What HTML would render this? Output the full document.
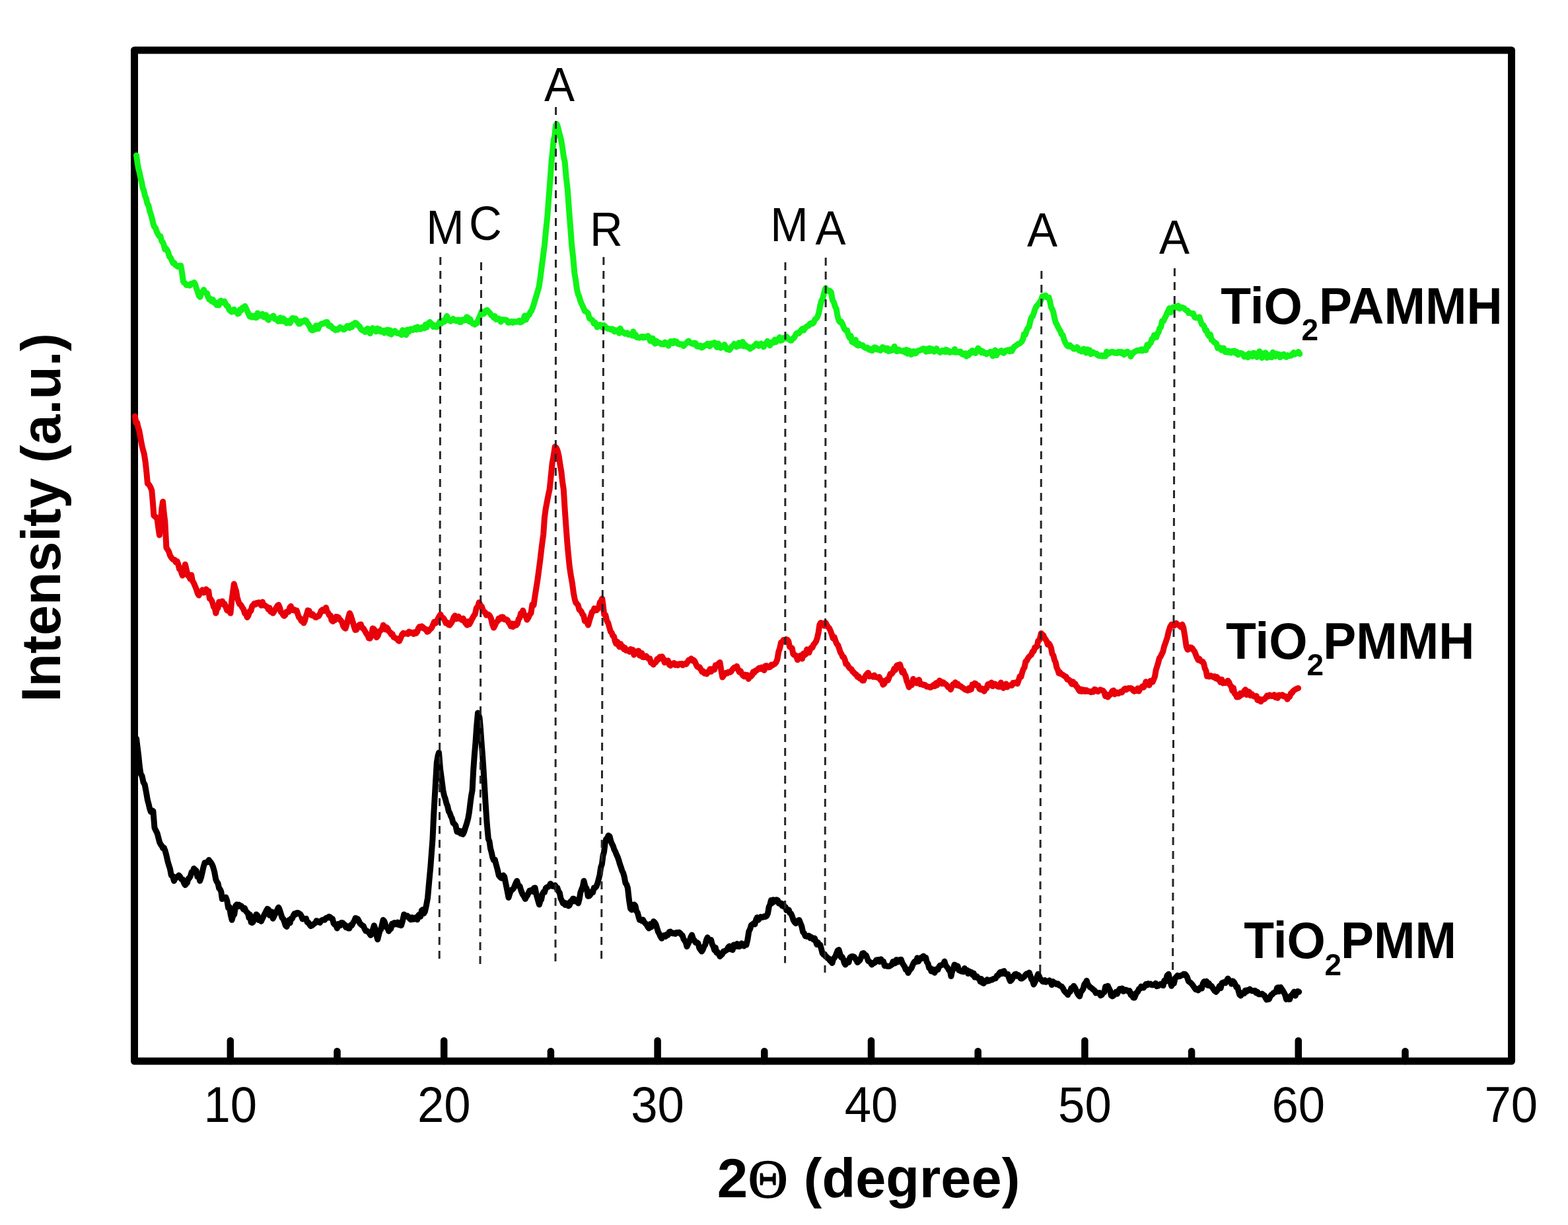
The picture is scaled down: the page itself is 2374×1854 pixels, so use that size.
<!DOCTYPE html>
<html><head><meta charset="utf-8"><style>
html,body{margin:0;padding:0;background:#fff;overflow:hidden;}
svg{display:block;}
</style></head><body>
<svg width="2374" height="1854" viewBox="0 0 2374 1854">
<rect width="2374" height="1854" fill="#fff"/>
<rect x="203.5" y="76" width="2085.0" height="1530" fill="none" stroke="#000" stroke-width="11" stroke-linejoin="round"/>
<line x1="348.8" y1="1575" x2="348.8" y2="1606" stroke="#000" stroke-width="10.5" stroke-linecap="round"/>
<line x1="672.2" y1="1575" x2="672.2" y2="1606" stroke="#000" stroke-width="10.5" stroke-linecap="round"/>
<line x1="995.6" y1="1575" x2="995.6" y2="1606" stroke="#000" stroke-width="10.5" stroke-linecap="round"/>
<line x1="1319.0" y1="1575" x2="1319.0" y2="1606" stroke="#000" stroke-width="10.5" stroke-linecap="round"/>
<line x1="1642.4" y1="1575" x2="1642.4" y2="1606" stroke="#000" stroke-width="10.5" stroke-linecap="round"/>
<line x1="1965.8" y1="1575" x2="1965.8" y2="1606" stroke="#000" stroke-width="10.5" stroke-linecap="round"/>
<line x1="510.5" y1="1591" x2="510.5" y2="1606" stroke="#000" stroke-width="10.5" stroke-linecap="round"/>
<line x1="833.9" y1="1591" x2="833.9" y2="1606" stroke="#000" stroke-width="10.5" stroke-linecap="round"/>
<line x1="1157.3" y1="1591" x2="1157.3" y2="1606" stroke="#000" stroke-width="10.5" stroke-linecap="round"/>
<line x1="1480.7" y1="1591" x2="1480.7" y2="1606" stroke="#000" stroke-width="10.5" stroke-linecap="round"/>
<line x1="1804.1" y1="1591" x2="1804.1" y2="1606" stroke="#000" stroke-width="10.5" stroke-linecap="round"/>
<line x1="2127.5" y1="1591" x2="2127.5" y2="1606" stroke="#000" stroke-width="10.5" stroke-linecap="round"/>
<polyline points="206.5,235.2 208.1,246.4 209.6,255.3 211.2,261.0 212.8,269.0 214.4,275.1 216.0,284.5 217.8,288.2 219.5,296.3 221.2,300.1 223.0,308.0 224.9,311.0 226.9,320.1 228.8,325.5 230.4,331.6 231.9,338.3 233.5,343.0 235.5,345.1 237.4,350.9 239.4,354.8 241.2,357.6 242.9,357.6 244.7,364.7 246.4,366.5 248.0,370.2 249.7,377.4 251.3,376.1 253.0,378.5 254.6,381.8 256.4,388.2 258.2,390.1 260.0,393.7 261.8,398.0 263.7,397.8 265.5,401.0 267.1,401.6 268.8,403.4 270.4,403.0 272.1,402.1 273.7,402.0 275.5,411.7 277.4,425.8 279.0,428.1 280.6,428.7 282.2,431.4 283.8,431.3 285.5,431.1 287.2,432.2 288.9,429.3 290.5,429.2 292.2,429.6 293.9,427.6 295.7,430.5 297.5,436.9 299.4,441.7 301.2,447.8 303.0,449.5 304.9,443.0 306.7,442.2 308.5,438.6 310.1,442.6 311.8,443.5 313.4,443.7 315.0,449.6 316.8,453.2 318.6,452.1 320.5,456.0 322.3,453.5 324.1,457.8 325.9,457.6 327.8,461.6 329.6,459.7 331.3,461.9 333.0,455.9 334.6,455.2 336.3,457.1 338.0,458.1 339.7,456.0 341.5,459.5 343.4,463.0 345.2,463.6 347.0,468.8 348.8,470.5 350.7,472.2 352.5,469.6 354.4,468.2 356.2,471.6 358.0,471.0 359.8,474.9 361.6,474.3 363.4,468.6 365.3,469.7 367.1,465.7 369.0,465.2 370.8,463.3 372.6,466.8 374.5,471.3 376.3,475.2 378.0,479.0 379.7,477.6 381.4,480.2 383.1,478.1 384.8,478.2 386.5,480.7 388.2,480.7 390.0,473.9 391.9,478.4 393.7,477.6 395.5,476.2 397.3,475.1 399.2,479.9 401.0,479.2 402.8,476.7 404.7,482.6 406.5,484.4 408.3,480.8 410.1,480.2 412.0,479.3 413.8,478.0 415.6,482.6 417.5,482.3 419.4,484.1 421.2,486.2 422.8,486.1 424.4,480.8 426.0,486.0 427.6,482.6 429.2,482.0 430.8,486.7 432.4,485.1 434.0,489.0 435.7,485.8 437.4,485.7 439.1,489.1 440.7,485.5 442.4,481.6 444.1,481.6 445.8,482.4 447.4,482.1 449.1,485.7 450.8,486.0 452.4,490.0 454.1,489.9 456.0,486.2 457.9,487.3 459.7,485.3 461.6,484.5 463.5,485.0 465.2,488.9 466.8,490.3 468.5,493.7 470.2,497.4 471.8,499.8 473.5,500.0 475.2,496.0 476.8,498.6 478.5,492.7 480.2,494.9 481.8,497.6 483.5,492.5 485.2,491.3 486.8,490.1 488.5,490.3 490.2,489.2 491.8,488.4 493.5,487.5 495.3,487.4 497.1,492.5 498.9,493.6 500.6,492.8 502.4,495.3 504.2,497.4 506.0,497.5 507.8,499.6 509.6,498.3 511.4,498.9 513.1,497.0 514.9,495.4 516.7,496.5 518.5,497.5 520.3,498.8 522.1,498.0 523.9,495.6 525.6,493.5 527.4,494.5 529.2,496.5 531.0,492.5 532.7,495.0 534.3,490.6 536.0,491.7 537.7,488.6 539.3,489.0 541.0,491.0 542.7,492.9 544.3,494.0 546.0,497.4 547.7,499.5 549.3,500.2 551.0,500.0 552.9,502.5 554.8,498.6 556.6,497.3 558.5,500.4 560.4,504.6 562.2,499.8 564.1,496.6 566.0,498.8 567.8,499.4 569.5,501.9 571.2,497.1 573.0,500.9 574.8,498.2 576.5,502.0 578.2,501.2 580.0,500.4 581.8,503.9 583.5,500.0 585.3,499.5 587.1,499.3 588.9,504.8 590.6,499.7 592.4,506.2 594.2,502.1 596.0,502.5 597.7,500.8 599.3,503.3 601.0,504.0 602.7,504.6 604.3,504.2 606.0,505.0 607.8,506.8 609.6,499.6 611.4,502.8 613.1,503.0 614.9,506.9 616.7,498.9 618.5,502.5 620.2,500.7 621.8,498.0 623.5,497.9 625.2,499.4 626.8,497.9 628.5,496.0 630.3,498.9 632.1,494.8 633.9,496.5 635.6,498.3 637.4,497.8 639.2,495.3 641.0,496.0 642.7,496.8 644.3,491.3 646.0,495.4 647.7,490.6 649.3,488.7 651.0,487.5 652.7,489.3 654.3,491.7 656.0,494.7 657.7,492.2 659.3,493.0 661.0,495.0 662.7,494.5 664.3,489.9 666.0,486.6 667.7,490.0 669.3,485.9 671.0,485.0 672.9,486.9 674.8,482.3 676.6,478.3 678.5,484.3 680.4,483.7 682.2,486.3 684.1,483.9 686.0,482.5 687.7,484.0 689.3,485.3 691.0,484.3 692.7,486.0 694.3,484.0 696.0,487.5 697.8,487.6 699.5,483.9 701.3,483.7 703.1,485.0 704.9,484.5 706.6,479.7 708.4,480.7 710.2,486.5 711.9,483.0 713.7,487.6 715.5,489.6 717.2,489.9 719.0,491.2 720.7,488.6 722.4,488.9 724.0,484.2 725.7,480.3 727.4,476.5 729.1,471.6 730.8,472.4 732.5,475.0 734.2,471.8 735.9,470.1 737.5,469.3 739.0,471.0 740.6,472.7 742.2,474.4 744.0,477.2 745.7,478.0 747.5,480.6 749.2,478.4 751.0,483.4 752.7,482.8 754.6,482.1 756.4,482.7 758.2,487.1 760.1,484.0 762.0,483.8 763.8,484.0 765.6,483.9 767.5,484.9 769.3,488.3 771.1,488.3 772.9,487.2 774.8,486.5 776.6,488.5 778.4,486.5 780.2,487.0 782.0,487.3 783.8,486.6 785.6,485.4 787.4,487.9 789.2,487.5 791.0,486.0 792.8,482.8 794.5,477.7 796.2,484.0 797.9,480.4 799.6,476.9 801.3,476.5 803.0,472.2 804.7,470.3 806.3,466.2 808.0,461.3 809.7,455.4 811.8,448.6 813.9,441.4 816.0,434.3 818.1,420.1 820.3,402.6 822.4,386.6 824.5,371.0 826.6,348.1 828.7,328.8 830.3,306.5 831.9,286.6 833.5,265.2 835.0,244.4 836.6,229.2 838.2,212.7 839.8,205.6 841.4,189.5 843.0,187.8 844.5,191.6 846.3,199.6 848.0,205.5 849.8,212.7 851.6,223.9 853.3,236.5 855.1,244.4 857.2,268.0 859.3,286.6 860.8,307.4 862.4,328.8 864.0,348.8 865.6,371.0 867.7,389.4 869.8,413.2 871.6,423.6 873.3,436.8 875.1,444.8 876.8,448.5 878.5,454.6 880.1,458.9 881.8,462.5 883.5,465.9 885.3,470.9 887.0,471.3 888.8,472.7 890.6,474.8 892.3,481.8 894.1,482.8 895.8,483.8 897.5,485.5 899.1,489.5 900.8,487.9 902.5,491.2 904.2,495.2 905.9,493.4 907.6,491.4 909.3,491.6 911.0,493.3 912.8,496.2 914.5,492.3 916.2,494.1 918.0,496.1 919.8,497.2 921.5,497.5 923.3,497.9 925.0,499.0 926.8,497.9 928.6,498.7 930.3,501.9 932.1,499.7 933.9,501.3 935.6,499.5 937.4,504.2 939.1,497.1 940.9,501.6 942.6,501.8 944.4,503.8 946.1,505.1 947.9,504.1 949.7,503.8 951.4,506.5 953.2,506.0 955.1,506.1 956.9,507.9 958.8,501.7 960.7,508.6 962.5,506.8 964.4,510.7 966.3,510.8 968.1,511.2 970.0,510.2 971.8,509.4 973.6,511.1 975.4,509.5 977.3,510.6 979.1,509.9 980.9,508.5 982.7,510.2 984.5,516.1 986.4,515.5 988.2,511.9 990.0,518.0 991.9,520.2 993.8,516.0 995.6,518.8 997.5,518.5 999.4,519.0 1001.2,520.9 1003.1,520.2 1005.0,521.2 1006.8,518.0 1008.5,520.5 1010.2,520.9 1012.0,523.3 1013.8,518.5 1015.5,516.6 1017.2,517.9 1019.0,519.6 1020.8,516.1 1022.5,517.5 1024.3,517.0 1026.1,520.4 1027.9,520.2 1029.6,521.5 1031.4,520.7 1033.2,521.2 1035.0,523.8 1036.9,521.2 1038.8,519.7 1040.6,517.5 1042.5,516.2 1044.3,518.0 1046.1,519.2 1048.0,520.1 1049.8,520.8 1051.6,519.0 1053.4,519.5 1055.2,524.2 1057.0,523.5 1058.9,524.7 1060.7,523.0 1062.5,526.2 1064.2,525.2 1066.0,523.7 1067.8,522.6 1069.5,522.5 1071.2,520.1 1073.0,522.7 1074.8,524.2 1076.5,519.8 1078.2,520.8 1080.0,520.0 1081.9,518.4 1083.8,522.6 1085.6,525.6 1087.5,520.0 1089.4,522.7 1091.2,526.6 1093.1,525.1 1095.0,525.2 1096.9,521.5 1098.8,525.9 1100.6,528.7 1102.5,527.5 1104.3,529.7 1106.1,527.4 1108.0,524.3 1109.8,523.4 1111.6,520.5 1113.4,521.3 1115.2,525.0 1117.0,521.8 1118.9,518.7 1120.7,523.3 1122.5,520.0 1124.4,517.4 1126.2,524.1 1128.1,521.7 1130.0,523.8 1131.9,525.3 1133.8,525.2 1135.6,528.0 1137.5,526.2 1139.4,525.5 1141.2,524.0 1143.1,522.6 1145.0,520.2 1146.9,521.0 1148.8,523.5 1150.6,522.4 1152.5,520.0 1154.4,522.6 1156.2,525.0 1158.1,520.8 1160.0,520.2 1161.9,516.3 1163.8,518.3 1165.6,522.9 1167.5,519.4 1169.4,517.8 1171.2,518.5 1173.1,513.9 1175.0,517.5 1176.8,514.9 1178.6,513.1 1180.4,510.5 1182.1,515.5 1183.9,515.0 1185.7,511.8 1187.5,511.2 1189.3,512.1 1191.1,509.6 1192.9,512.7 1194.6,513.5 1196.4,515.2 1198.2,515.4 1200.0,512.5 1201.9,511.6 1203.8,508.5 1205.6,505.2 1207.5,503.8 1209.4,504.4 1211.2,502.4 1213.1,499.4 1215.0,497.5 1216.9,499.9 1218.8,496.9 1220.6,494.7 1222.5,493.4 1224.4,493.0 1226.2,490.0 1228.1,489.0 1230.0,490.0 1231.9,488.2 1233.8,483.8 1235.6,482.0 1237.5,480.0 1239.6,474.1 1241.7,462.9 1243.8,455.0 1245.8,451.4 1247.9,442.5 1250.0,436.2 1252.1,440.5 1254.2,439.7 1256.2,440.0 1258.3,442.3 1260.4,454.1 1262.5,457.5 1264.4,464.0 1266.2,467.3 1268.1,478.4 1270.0,485.0 1271.8,487.5 1273.6,486.7 1275.4,490.2 1277.1,494.7 1278.9,498.5 1280.7,500.1 1282.5,500.0 1284.4,506.8 1286.2,511.0 1288.1,508.2 1290.0,517.5 1291.8,516.8 1293.6,519.3 1295.4,514.3 1297.1,521.9 1298.9,522.9 1300.7,520.2 1302.5,522.5 1304.3,522.6 1306.1,522.4 1307.9,525.1 1309.6,526.0 1311.4,526.9 1313.2,525.8 1315.0,528.8 1316.8,529.5 1318.6,528.1 1320.4,530.7 1322.1,529.4 1323.9,525.8 1325.7,525.9 1327.5,528.9 1329.3,527.8 1331.1,529.7 1332.9,530.4 1334.6,528.8 1336.4,525.4 1338.2,526.4 1340.0,528.8 1341.8,530.1 1343.6,527.0 1345.4,531.5 1347.1,529.3 1348.9,530.7 1350.7,528.1 1352.5,529.8 1354.3,524.3 1356.1,529.9 1357.9,531.7 1359.6,528.9 1361.4,529.2 1363.2,531.0 1365.0,531.2 1366.8,531.7 1368.6,530.3 1370.5,533.6 1372.3,529.3 1374.1,535.2 1375.9,530.5 1377.7,532.0 1379.5,536.6 1381.4,532.3 1383.2,531.4 1385.0,535.0 1386.9,534.4 1388.8,531.6 1390.6,530.4 1392.5,530.5 1394.4,529.6 1396.2,528.4 1398.1,527.5 1400.0,528.8 1401.8,532.2 1403.6,527.9 1405.4,531.5 1407.1,527.0 1408.9,531.2 1410.7,527.9 1412.5,529.7 1414.3,532.2 1416.1,530.1 1417.9,527.5 1419.6,530.6 1421.4,531.6 1423.2,533.4 1425.0,532.5 1426.9,530.5 1428.8,531.9 1430.6,532.6 1432.5,529.2 1434.4,532.3 1436.2,530.8 1438.1,533.4 1440.0,532.5 1441.8,532.5 1443.6,532.7 1445.4,528.5 1447.1,533.4 1448.9,533.1 1450.7,532.2 1452.5,533.4 1454.3,532.1 1456.1,535.3 1457.9,536.5 1459.6,536.6 1461.4,534.7 1463.2,539.3 1465.0,536.2 1466.8,537.3 1468.5,533.1 1470.2,534.1 1472.0,530.5 1473.8,532.9 1475.5,533.9 1477.2,534.4 1479.0,530.4 1480.8,527.0 1482.5,530.0 1484.4,530.1 1486.2,533.7 1488.1,531.7 1490.0,534.4 1491.9,534.0 1493.8,535.9 1495.6,534.5 1497.5,533.8 1499.4,532.4 1501.2,534.6 1503.1,538.8 1505.0,532.6 1506.8,529.9 1508.7,537.8 1510.5,534.4 1512.4,532.3 1514.3,532.3 1516.1,530.4 1518.0,533.5 1519.7,534.3 1521.5,532.5 1523.2,530.4 1525.0,530.2 1526.7,529.5 1528.5,531.9 1530.2,528.8 1532.0,531.3 1533.7,527.9 1535.6,524.7 1537.4,523.7 1539.3,522.4 1541.2,520.8 1543.0,520.2 1544.9,518.9 1546.8,517.2 1548.6,513.9 1550.5,505.6 1552.4,506.5 1554.2,500.4 1556.1,496.5 1558.0,494.8 1559.8,486.4 1561.7,480.2 1563.6,478.6 1565.4,473.4 1567.3,467.3 1569.1,463.7 1570.9,461.9 1572.7,459.5 1574.5,457.1 1576.3,453.8 1578.0,448.7 1579.7,448.0 1581.3,448.9 1583.0,447.1 1584.7,449.9 1586.3,450.6 1588.0,450.3 1589.7,456.1 1591.4,465.0 1593.1,467.8 1594.8,472.5 1596.5,480.8 1598.3,488.0 1600.1,491.1 1601.9,495.0 1603.7,498.6 1605.5,501.0 1607.3,506.2 1609.1,507.1 1610.8,513.2 1612.6,517.9 1614.4,521.2 1616.3,523.6 1618.1,524.4 1620.0,522.5 1621.9,524.5 1623.7,526.1 1625.6,527.9 1627.3,527.9 1629.0,527.0 1630.7,525.5 1632.3,527.2 1634.0,530.6 1635.7,530.4 1637.4,532.0 1639.1,531.3 1640.9,527.9 1642.7,531.1 1644.5,534.1 1646.3,528.7 1648.0,530.8 1649.8,529.9 1651.6,536.0 1653.4,534.0 1655.2,533.1 1657.0,534.6 1658.7,535.3 1660.4,535.3 1662.1,537.7 1663.8,538.6 1665.4,538.6 1667.1,537.8 1668.8,539.1 1670.5,538.0 1672.2,538.9 1673.9,538.9 1675.6,532.2 1677.2,535.9 1678.9,534.7 1680.6,534.1 1682.3,532.6 1684.0,532.4 1685.8,532.7 1687.6,534.3 1689.4,534.1 1691.2,534.5 1693.0,532.5 1694.7,532.6 1696.5,534.1 1698.3,532.4 1700.1,535.4 1701.9,536.9 1703.6,534.9 1705.3,532.7 1707.0,532.2 1708.7,534.8 1710.3,534.3 1712.0,539.5 1713.7,536.6 1715.4,534.6 1717.2,532.4 1719.0,532.3 1720.8,530.6 1722.6,530.3 1724.3,530.5 1726.1,530.5 1727.9,528.7 1729.7,530.9 1731.5,529.9 1733.3,527.9 1735.1,530.0 1736.9,521.7 1738.7,523.9 1740.5,520.0 1742.3,518.9 1744.0,512.9 1745.7,512.7 1747.4,507.2 1749.0,507.6 1750.7,510.4 1752.4,504.7 1754.1,502.9 1755.8,496.5 1757.7,495.1 1759.5,485.9 1761.4,486.1 1763.3,481.8 1765.1,478.6 1767.0,474.0 1768.8,470.1 1770.6,466.5 1772.4,472.9 1774.2,469.3 1776.0,465.1 1777.9,465.7 1779.8,464.1 1781.7,465.5 1783.7,462.6 1785.6,467.0 1787.5,465.4 1789.4,465.1 1791.1,465.9 1792.8,466.5 1794.5,468.3 1796.2,469.8 1797.8,469.9 1799.5,473.7 1801.2,473.3 1802.9,474.0 1804.8,474.9 1806.6,474.5 1808.5,479.8 1810.4,481.1 1812.2,481.0 1814.1,480.8 1815.9,479.8 1817.7,485.5 1819.5,490.8 1821.3,491.6 1823.1,494.2 1825.0,500.1 1826.8,500.1 1828.7,505.9 1830.6,508.7 1832.4,506.1 1834.3,514.4 1836.2,515.5 1838.0,517.7 1839.9,518.7 1841.8,520.1 1843.6,526.9 1845.5,525.6 1847.3,526.7 1849.1,529.9 1850.9,527.0 1852.7,526.9 1854.5,532.4 1856.3,531.5 1858.1,533.2 1859.9,531.0 1861.7,533.5 1863.5,534.0 1865.3,531.5 1867.1,532.3 1868.9,530.9 1870.7,534.6 1872.5,532.4 1874.4,536.9 1876.3,535.3 1878.2,534.3 1880.2,534.8 1882.1,536.6 1884.0,539.9 1885.9,539.1 1887.6,537.0 1889.3,540.9 1891.0,535.0 1892.7,536.8 1894.3,538.9 1896.0,539.3 1897.7,534.3 1899.4,534.6 1901.3,536.6 1903.1,540.4 1905.0,538.1 1906.9,531.7 1908.7,537.0 1910.6,541.6 1912.5,534.9 1914.3,539.4 1916.2,533.8 1918.1,541.5 1919.9,537.0 1921.8,539.1 1923.6,540.6 1925.4,540.7 1927.2,533.2 1929.0,535.8 1930.8,539.2 1932.6,535.4 1934.4,538.3 1936.2,536.3 1938.0,540.8 1939.8,538.0 1941.7,537.0 1943.6,536.2 1945.5,539.3 1947.5,540.4 1949.4,537.7 1951.3,538.6 1953.2,538.0 1955.0,538.3 1956.8,535.7 1958.6,533.6 1960.4,536.3 1962.2,534.6 1964.1,534.3 1965.9,532.6 1967.8,535.7" fill="none" stroke="#10f418" stroke-width="9.0" stroke-linejoin="round" stroke-linecap="round"/>
<polyline points="204.4,630.0 206.0,640.1 207.6,639.5 209.2,647.1 210.8,651.7 212.5,661.1 214.3,671.6 216.0,679.1 218.2,686.8 220.3,700.2 221.9,715.2 223.4,731.8 225.0,732.9 226.6,735.0 228.2,738.1 229.8,742.4 231.4,760.4 232.9,780.4 234.7,781.9 236.4,782.8 238.2,786.7 239.8,799.1 241.4,809.9 243.1,791.9 244.9,769.8 246.6,759.3 248.2,776.4 249.8,788.8 251.9,828.9 253.8,831.8 255.6,834.8 257.4,840.5 259.3,843.7 261.1,845.9 262.8,847.3 264.6,847.2 266.4,851.1 268.1,849.4 269.9,854.2 271.5,861.3 273.0,860.1 274.6,866.5 276.2,871.1 278.3,862.7 280.4,854.2 282.5,863.1 284.6,871.1 286.3,872.7 288.0,876.3 289.7,870.2 291.4,879.1 293.1,881.7 295.2,886.7 297.3,891.8 299.4,898.5 301.2,901.0 302.9,895.6 304.7,897.0 306.5,892.8 308.2,897.0 310.0,896.4 312.1,891.8 314.2,894.3 315.8,894.6 317.4,906.2 318.9,906.6 320.5,909.1 322.1,913.6 323.6,918.7 325.2,920.2 326.8,928.1 328.4,921.5 330.0,920.2 331.6,910.9 333.2,911.2 334.9,912.7 336.6,909.9 338.2,915.0 339.9,913.7 341.6,917.5 343.5,923.4 345.3,924.6 347.1,924.1 349.0,928.1 350.8,909.2 352.5,896.7 354.3,883.8 355.9,889.7 357.5,894.2 359.0,903.1 360.6,909.1 362.7,914.3 364.8,915.7 366.9,919.6 368.8,922.2 370.6,928.3 372.4,929.8 374.3,934.4 376.1,931.6 378.0,925.0 379.9,924.7 381.7,917.5 383.4,915.8 385.1,913.4 386.7,914.9 388.4,912.6 390.1,913.3 391.9,911.7 393.7,914.0 395.5,916.4 397.4,911.0 399.2,916.0 401.0,916.3 402.8,917.5 404.6,918.7 406.3,922.4 408.1,919.9 409.8,925.7 411.6,925.6 413.3,928.1 415.0,925.5 416.7,922.3 418.4,919.6 420.1,916.6 421.8,915.4 423.5,919.4 425.2,926.2 426.8,927.4 428.5,930.4 430.2,932.3 431.9,930.7 433.6,926.0 435.3,925.7 437.0,926.1 438.7,919.6 440.4,917.5 442.2,922.5 443.9,923.6 445.7,922.8 447.4,924.6 449.2,923.9 451.0,929.7 452.7,934.5 454.5,935.9 456.3,939.8 458.0,940.2 459.8,942.9 461.4,939.7 463.0,933.6 464.5,929.1 466.1,923.9 467.9,924.3 469.7,928.1 471.5,931.2 473.4,929.5 475.2,931.8 477.0,934.0 478.8,934.4 480.6,932.5 482.5,932.5 484.3,929.3 486.1,924.5 488.0,923.0 489.8,924.7 491.7,922.6 493.5,919.6 495.2,925.5 496.9,927.6 498.6,931.3 500.3,931.5 502.0,938.6 503.8,940.6 505.5,935.3 507.2,938.5 509.0,933.4 510.8,933.7 512.5,934.4 514.3,937.5 516.0,939.1 517.8,941.4 519.6,947.4 521.3,949.8 523.1,951.3 525.2,944.3 527.3,935.1 529.4,928.1 531.1,931.4 532.8,937.2 534.4,942.2 536.1,948.2 537.8,953.4 539.5,953.2 541.2,949.7 542.9,946.7 544.6,945.4 546.3,945.0 548.0,950.2 549.8,950.6 551.5,953.4 553.2,956.1 554.9,959.4 556.6,961.1 558.4,965.9 560.1,966.2 562.1,963.1 564.2,951.1 566.2,952.1 568.2,955.2 570.2,964.7 572.2,962.2 574.2,955.6 576.2,954.4 578.3,952.3 580.3,946.1 582.0,948.1 583.8,952.8 585.5,949.6 587.2,951.6 588.9,955.8 590.7,956.7 592.4,960.2 594.1,959.5 595.9,964.2 597.6,965.1 599.3,966.0 601.0,966.6 602.8,969.4 604.5,970.3 606.5,966.0 608.5,960.8 610.5,958.2 612.3,959.2 614.0,958.9 615.8,958.4 617.5,959.6 619.3,956.0 621.1,957.9 622.8,957.1 624.6,958.2 626.4,959.6 628.1,956.7 629.9,958.6 631.7,956.3 633.4,951.1 635.2,948.4 636.9,950.3 638.7,948.1 640.7,949.6 642.8,951.8 644.8,952.1 646.8,956.2 648.6,955.6 650.3,953.0 652.1,951.7 653.8,949.8 655.6,945.6 657.4,941.1 659.1,943.3 660.9,942.1 662.9,936.8 664.9,933.0 666.9,930.0 668.9,934.6 671.0,935.1 673.0,938.0 675.0,943.0 677.0,942.4 679.0,945.5 681.0,946.1 683.0,943.1 685.1,939.6 687.1,934.0 688.9,931.7 690.6,936.7 692.4,935.0 694.2,933.0 695.9,936.5 697.7,936.2 699.4,938.3 701.2,936.0 703.2,940.8 705.2,943.5 707.2,946.1 708.9,940.5 710.6,944.8 712.2,942.0 713.9,938.3 715.6,935.3 717.3,932.0 719.3,929.4 721.3,920.2 723.3,918.3 725.3,911.8 727.3,915.9 729.4,917.9 731.4,923.9 733.0,925.9 734.6,927.0 736.3,931.0 737.9,930.7 739.5,930.0 741.5,931.8 743.5,936.1 745.5,944.9 747.5,950.1 749.5,946.3 751.5,941.5 753.5,940.0 755.1,935.9 756.7,937.2 758.4,934.1 760.0,933.8 761.6,934.0 763.3,937.4 765.0,937.8 766.7,937.5 768.3,938.5 770.0,942.0 771.7,944.1 773.4,947.9 775.1,943.8 776.8,948.6 778.4,943.9 780.1,945.3 781.8,946.1 783.5,943.8 785.1,937.2 786.8,935.1 788.5,928.6 790.1,928.9 791.8,923.9 793.8,930.9 795.9,932.0 797.9,938.0 799.9,935.0 801.9,930.5 803.9,928.0 805.9,914.9 808.0,916.0 810.0,901.8 812.0,889.6 814.0,876.6 816.0,861.5 817.7,848.8 819.3,835.0 821.0,821.2 822.7,809.1 824.4,783.9 826.1,770.8 828.1,760.1 830.1,749.8 832.1,740.6 834.2,720.0 836.2,700.3 838.2,689.6 840.2,676.1 842.2,677.7 844.2,682.2 846.2,690.6 848.2,704.3 849.9,714.1 851.6,729.4 853.3,740.6 855.3,772.7 857.3,801.0 858.8,820.8 860.3,837.3 862.3,857.6 864.4,871.5 866.4,882.6 868.4,897.7 870.4,907.8 872.0,912.4 873.6,913.9 875.3,916.0 876.9,922.4 878.5,923.9 880.2,925.7 881.9,929.7 883.6,931.5 885.4,940.1 887.1,939.7 888.8,941.9 890.5,946.1 892.5,938.9 894.6,932.2 896.6,925.9 898.2,925.3 899.8,920.9 901.5,921.2 903.1,923.7 904.7,921.9 906.5,920.0 908.2,911.8 910.0,910.0 911.7,905.8 913.2,916.7 914.7,930.0 916.7,930.5 918.8,939.4 920.8,942.9 922.8,950.1 924.5,955.9 926.2,957.7 927.8,962.1 929.5,963.3 931.2,970.6 932.9,974.3 934.6,971.1 936.2,976.1 937.9,979.1 939.6,974.5 941.2,979.3 942.9,978.3 944.6,982.5 946.3,980.6 948.0,984.6 949.6,983.9 951.3,984.1 953.0,986.4 954.7,982.4 956.5,984.2 958.2,983.4 959.9,991.2 961.6,986.9 963.4,986.0 965.1,986.4 966.7,984.9 968.4,992.2 970.0,990.0 971.7,988.5 973.3,994.6 975.0,994.7 976.7,993.5 978.3,992.8 980.0,995.0 981.9,997.1 983.8,996.7 985.6,1002.9 987.5,1003.8 989.4,1005.9 991.2,1003.0 993.1,1002.1 995.0,997.3 996.9,998.1 998.8,994.2 1000.6,994.1 1002.5,993.8 1004.3,997.2 1006.1,1002.7 1007.9,999.8 1009.6,1001.7 1011.4,999.8 1013.2,1005.9 1015.0,1007.5 1016.9,1005.4 1018.8,1004.1 1020.6,1003.6 1022.5,1006.5 1024.4,1005.1 1026.2,1007.0 1028.1,1004.8 1030.0,1005.0 1031.8,1004.4 1033.6,1006.8 1035.5,1004.9 1037.3,1004.3 1039.1,1005.1 1040.9,1002.0 1042.7,999.0 1044.5,998.9 1046.4,996.8 1048.2,1000.0 1050.0,998.8 1051.9,1000.8 1053.8,1005.4 1055.6,1008.9 1057.5,1010.0 1059.3,1009.8 1061.1,1013.2 1062.9,1016.8 1064.6,1015.9 1066.4,1019.0 1068.2,1018.2 1070.0,1020.0 1071.7,1016.8 1073.3,1017.0 1075.0,1012.5 1076.7,1016.4 1078.3,1012.7 1080.0,1012.5 1081.7,1013.5 1083.3,1006.7 1085.0,1007.8 1086.7,1006.5 1088.3,1003.8 1090.0,1002.5 1091.9,1014.5 1093.8,1025.0 1095.6,1022.2 1097.5,1020.3 1099.4,1018.4 1101.2,1018.9 1103.1,1017.1 1105.0,1017.5 1106.8,1016.5 1108.5,1013.8 1110.2,1011.7 1112.0,1010.0 1113.8,1010.0 1115.6,1008.3 1117.5,1013.4 1119.4,1017.1 1121.2,1015.6 1123.1,1019.9 1125.0,1022.5 1126.7,1023.9 1128.3,1021.1 1130.0,1022.9 1131.7,1021.6 1133.3,1027.5 1135.0,1022.5 1136.8,1023.9 1138.6,1022.0 1140.4,1016.8 1142.1,1018.1 1143.9,1015.0 1145.7,1014.7 1147.5,1012.5 1149.4,1011.0 1151.2,1012.2 1153.1,1010.0 1155.0,1011.8 1156.9,1014.5 1158.8,1007.8 1160.6,1007.6 1162.5,1010.0 1164.3,1009.9 1166.1,1009.5 1167.9,1006.0 1169.6,1006.9 1171.4,1005.5 1173.2,1004.7 1175.0,1002.5 1176.9,997.8 1178.8,986.2 1180.6,981.3 1182.5,972.5 1184.4,971.7 1186.2,968.6 1188.1,969.8 1190.0,967.5 1191.9,968.0 1193.8,970.7 1195.6,979.1 1197.5,980.0 1199.2,980.9 1200.8,989.7 1202.5,991.5 1204.2,991.4 1205.8,993.8 1207.5,998.8 1209.3,993.0 1211.1,996.1 1212.9,991.7 1214.6,996.9 1216.4,989.1 1218.2,991.4 1220.0,990.0 1221.7,982.8 1223.3,985.9 1225.0,987.7 1226.7,982.4 1228.3,980.0 1230.0,980.0 1231.9,975.3 1233.8,973.3 1235.6,970.6 1237.5,965.0 1239.2,957.0 1240.8,945.8 1242.5,942.5 1244.4,943.1 1246.2,944.5 1248.1,947.2 1250.0,942.5 1251.9,946.0 1253.8,949.1 1255.6,950.8 1257.5,955.0 1259.4,960.3 1261.2,966.1 1263.1,964.2 1265.0,970.0 1266.9,974.5 1268.8,976.6 1270.6,981.7 1272.5,987.5 1274.2,990.0 1275.8,994.3 1277.5,994.5 1279.2,998.6 1280.8,1004.9 1282.5,1005.0 1284.2,1008.1 1285.8,1010.6 1287.5,1012.0 1289.2,1012.9 1290.8,1016.3 1292.5,1017.5 1294.4,1020.1 1296.2,1020.6 1298.1,1024.3 1300.0,1023.7 1301.9,1027.1 1303.8,1026.9 1305.6,1029.9 1307.5,1030.0 1309.2,1025.3 1310.8,1022.2 1312.5,1020.0 1314.4,1018.2 1316.2,1023.7 1318.1,1022.9 1320.0,1022.9 1321.9,1024.4 1323.8,1022.0 1325.6,1024.6 1327.5,1025.0 1329.4,1025.6 1331.2,1024.5 1333.1,1029.4 1335.0,1029.9 1336.9,1036.2 1338.8,1035.0 1340.6,1031.0 1342.5,1028.7 1344.4,1029.5 1346.2,1025.0 1348.1,1019.8 1350.0,1020.0 1351.9,1017.3 1353.8,1012.2 1355.6,1014.1 1357.5,1007.5 1359.2,1006.6 1360.8,1008.5 1362.5,1005.6 1364.2,1011.1 1365.8,1017.6 1367.5,1015.0 1369.2,1019.7 1371.0,1023.0 1372.8,1030.6 1374.5,1034.4 1376.2,1040.0 1378.3,1035.7 1380.4,1036.8 1382.5,1027.5 1384.3,1032.7 1386.1,1032.9 1387.9,1034.1 1389.6,1029.9 1391.4,1028.8 1393.2,1035.4 1395.0,1035.0 1396.9,1036.4 1398.8,1036.3 1400.6,1036.6 1402.5,1039.0 1404.4,1039.3 1406.2,1039.3 1408.1,1040.4 1410.0,1040.0 1411.8,1038.1 1413.6,1036.4 1415.4,1038.6 1417.1,1033.8 1418.9,1036.9 1420.7,1032.7 1422.5,1030.0 1424.4,1031.4 1426.2,1034.8 1428.1,1032.7 1430.0,1034.6 1431.9,1035.5 1433.8,1037.5 1435.6,1040.1 1437.5,1040.0 1439.3,1043.5 1441.1,1039.6 1442.9,1035.7 1444.6,1035.4 1446.4,1032.7 1448.2,1037.2 1450.0,1035.0 1451.9,1038.0 1453.8,1038.2 1455.6,1039.5 1457.5,1041.1 1459.4,1042.1 1461.2,1043.8 1463.1,1044.2 1465.0,1045.0 1466.8,1041.5 1468.6,1044.1 1470.4,1043.4 1472.1,1035.9 1473.9,1037.4 1475.7,1034.1 1477.5,1035.0 1479.3,1037.6 1481.1,1037.6 1482.9,1042.7 1484.6,1043.7 1486.4,1042.1 1488.2,1043.7 1490.0,1046.2 1491.9,1042.2 1493.8,1041.8 1495.6,1035.9 1497.5,1035.0 1499.3,1036.4 1501.1,1033.1 1502.8,1038.6 1504.6,1037.9 1506.4,1035.0 1508.2,1036.3 1509.9,1038.6 1511.7,1039.4 1513.5,1039.3 1515.4,1033.1 1517.3,1039.1 1519.2,1041.4 1521.2,1037.1 1523.1,1034.9 1525.0,1039.9 1526.9,1037.1 1528.6,1037.3 1530.3,1036.9 1532.0,1037.5 1533.7,1033.4 1535.3,1034.3 1537.0,1033.1 1538.7,1032.8 1540.4,1034.8 1542.2,1029.7 1544.0,1023.7 1545.8,1024.6 1547.6,1017.9 1549.4,1012.4 1551.1,1010.2 1552.8,1001.1 1554.4,1000.2 1556.1,996.7 1557.9,994.1 1559.7,992.5 1561.5,990.9 1563.3,986.1 1565.1,985.5 1566.8,979.7 1568.4,979.5 1570.1,978.3 1571.8,969.7 1574.0,968.3 1576.3,958.5 1578.0,960.2 1579.7,961.4 1581.3,965.6 1583.0,967.5 1584.7,970.7 1586.3,975.6 1588.0,973.8 1589.7,976.5 1591.4,980.6 1593.1,989.8 1594.8,991.8 1596.5,998.9 1598.2,1002.2 1599.8,1010.1 1601.5,1013.6 1603.2,1019.1 1605.0,1017.8 1606.8,1020.3 1608.6,1020.9 1610.4,1022.2 1612.2,1023.6 1614.0,1023.9 1615.8,1028.4 1617.6,1028.3 1619.4,1029.6 1621.2,1032.6 1622.9,1035.3 1624.6,1031.8 1626.2,1035.8 1627.9,1034.8 1629.6,1038.8 1631.2,1039.8 1632.9,1043.6 1634.6,1046.0 1636.3,1043.0 1638.0,1046.5 1639.7,1043.9 1641.3,1044.2 1643.0,1046.5 1644.7,1044.5 1646.4,1046.3 1648.1,1046.0 1649.9,1046.6 1651.7,1047.7 1653.5,1046.1 1655.3,1047.2 1657.0,1043.4 1658.8,1043.9 1660.6,1045.8 1662.4,1046.6 1664.2,1044.9 1666.0,1043.8 1667.9,1044.6 1669.8,1045.3 1671.7,1047.5 1673.5,1053.5 1675.4,1051.1 1677.3,1055.0 1679.0,1052.3 1680.7,1051.8 1682.3,1049.1 1684.0,1046.0 1685.9,1044.9 1687.7,1050.8 1689.6,1047.5 1691.5,1048.1 1693.3,1049.6 1695.2,1048.3 1696.9,1046.8 1698.6,1048.0 1700.3,1045.5 1702.0,1043.1 1703.6,1042.1 1705.3,1044.0 1707.0,1042.5 1708.7,1041.5 1710.4,1041.7 1712.2,1041.6 1713.9,1042.5 1715.7,1045.1 1717.4,1046.2 1719.2,1044.0 1720.9,1045.5 1722.7,1041.7 1724.4,1046.0 1726.2,1041.9 1728.0,1041.0 1729.7,1038.8 1731.5,1040.3 1733.3,1037.1 1735.0,1031.7 1736.7,1035.8 1738.4,1035.1 1740.0,1037.1 1741.7,1030.5 1743.4,1031.3 1745.1,1032.2 1746.8,1028.1 1748.5,1023.8 1750.2,1013.8 1751.8,1008.9 1753.5,1003.4 1755.3,996.1 1757.1,993.7 1758.9,990.0 1760.7,986.4 1762.5,978.7 1764.2,974.2 1765.8,969.3 1767.5,964.0 1769.2,956.3 1771.5,949.0 1773.7,945.1 1775.5,946.5 1777.3,947.1 1779.1,944.7 1780.9,943.2 1782.7,945.1 1784.5,946.3 1786.3,947.2 1788.1,949.2 1789.9,945.1 1791.7,949.6 1794.0,963.4 1796.2,978.7 1798.0,983.2 1799.8,982.2 1801.5,979.8 1803.3,979.9 1805.1,981.0 1806.9,984.0 1808.7,986.2 1810.5,990.8 1812.3,995.2 1814.1,998.9 1815.8,997.1 1817.4,999.9 1819.1,1001.2 1820.8,1001.2 1822.5,1004.2 1824.2,1011.5 1825.9,1014.9 1827.6,1023.6 1829.5,1023.7 1831.3,1024.0 1833.2,1022.6 1835.1,1023.7 1836.9,1024.7 1838.8,1023.6 1840.6,1026.8 1842.4,1024.5 1844.2,1028.4 1846.0,1027.9 1847.8,1032.6 1849.7,1028.4 1851.5,1033.9 1853.4,1033.0 1855.3,1033.6 1857.1,1032.2 1859.0,1030.3 1860.7,1032.4 1862.4,1036.9 1864.1,1038.5 1865.8,1045.4 1867.4,1041.0 1869.1,1049.6 1870.8,1050.8 1872.5,1055.0 1874.4,1054.9 1876.2,1054.4 1878.1,1049.2 1880.0,1051.7 1881.8,1049.7 1883.7,1046.0 1885.6,1043.8 1887.5,1051.6 1889.4,1046.5 1891.4,1047.2 1893.3,1052.8 1895.2,1050.4 1897.1,1052.8 1898.8,1054.1 1900.5,1054.4 1902.2,1053.3 1903.8,1059.4 1905.5,1060.0 1907.2,1058.0 1908.9,1061.8 1910.6,1059.5 1912.5,1058.5 1914.4,1058.1 1916.3,1056.0 1918.3,1053.0 1920.2,1054.0 1922.1,1051.8 1924.0,1052.8 1925.7,1053.6 1927.5,1053.1 1929.2,1051.6 1931.0,1055.4 1932.7,1053.5 1934.5,1056.5 1936.2,1052.0 1938.0,1052.0 1939.7,1052.8 1941.6,1051.7 1943.5,1054.0 1945.3,1053.6 1947.2,1054.3 1949.1,1058.2 1951.0,1055.0 1952.7,1054.4 1954.3,1049.3 1956.0,1049.1 1957.7,1046.0 1959.7,1044.4 1961.7,1043.1 1963.6,1042.2 1965.6,1041.5" fill="none" stroke="#e8000a" stroke-width="9.0" stroke-linejoin="round" stroke-linecap="round"/>
<polyline points="206.6,1118.0 208.1,1130.8 209.7,1143.3 211.3,1159.5 212.9,1170.7 215.0,1174.5 217.1,1184.0 219.2,1187.6 221.3,1198.7 223.4,1210.8 225.0,1216.6 226.6,1223.5 228.4,1228.7 230.1,1226.6 231.9,1227.7 234.0,1253.0 236.1,1257.2 238.2,1261.5 240.0,1268.6 241.7,1275.0 243.5,1278.4 245.1,1280.4 246.7,1283.8 248.2,1282.8 249.8,1286.8 251.9,1294.5 254.0,1303.7 255.8,1309.9 257.5,1315.1 259.3,1324.8 261.4,1326.0 263.5,1333.2 265.4,1327.8 267.2,1328.5 269.0,1326.6 270.9,1324.8 272.8,1327.1 274.7,1330.8 276.6,1330.9 278.5,1336.4 280.4,1339.5 282.0,1337.4 283.5,1335.8 285.1,1329.9 286.7,1329.0 288.4,1325.7 290.1,1319.9 291.8,1320.4 293.5,1314.4 295.2,1316.3 297.1,1317.7 298.9,1327.0 300.8,1324.6 302.6,1333.2 304.5,1327.9 306.3,1320.2 308.1,1312.0 310.0,1305.8 311.6,1305.7 313.1,1304.8 314.7,1304.7 316.3,1301.6 317.9,1303.8 319.5,1305.7 321.0,1308.3 322.6,1312.1 324.7,1319.6 326.8,1331.1 328.4,1334.7 330.0,1336.9 331.6,1344.3 333.2,1345.9 334.8,1349.5 336.3,1360.6 338.1,1359.0 340.0,1359.8 341.9,1358.1 343.7,1362.8 345.6,1374.0 347.4,1372.7 349.2,1384.4 351.1,1392.3 353.0,1385.4 354.8,1384.0 356.6,1370.9 358.5,1369.1 360.2,1372.1 361.9,1369.3 363.5,1371.3 365.2,1371.1 366.9,1373.3 368.6,1376.3 370.3,1374.4 372.0,1378.2 373.7,1380.8 375.4,1381.8 377.0,1389.2 378.5,1384.3 380.1,1395.9 381.7,1396.5 383.3,1395.2 384.9,1389.2 386.4,1387.7 388.0,1383.9 389.9,1385.6 391.7,1392.4 393.5,1392.2 395.4,1394.4 397.3,1390.2 399.2,1386.3 401.1,1382.6 403.0,1378.8 404.9,1375.4 406.6,1376.6 408.3,1385.4 409.9,1380.5 411.6,1380.0 413.3,1390.2 415.0,1386.6 416.7,1383.1 418.4,1380.8 420.1,1376.3 421.8,1373.3 423.6,1377.6 425.3,1383.1 427.1,1388.9 428.8,1390.7 430.6,1395.4 432.3,1400.7 434.0,1402.5 435.7,1397.6 437.4,1392.4 439.1,1396.9 440.8,1390.2 442.5,1390.1 444.2,1385.7 445.8,1382.8 447.5,1384.1 449.2,1381.8 451.0,1381.5 452.7,1382.5 454.5,1383.4 456.3,1386.4 458.0,1391.0 459.8,1390.2 461.6,1390.8 463.4,1390.3 465.2,1396.0 467.0,1396.3 468.8,1399.4 470.6,1401.6 472.4,1400.7 474.1,1399.1 475.8,1397.9 477.5,1396.8 479.2,1393.4 480.9,1394.4 482.6,1395.4 484.4,1396.4 486.1,1393.7 487.9,1392.5 489.6,1392.1 491.4,1392.3 493.1,1389.9 494.8,1389.0 496.5,1389.0 498.2,1387.3 499.9,1388.1 501.6,1390.0 503.4,1390.6 505.1,1397.3 506.9,1399.5 508.6,1399.9 510.4,1405.0 512.0,1398.3 513.5,1400.7 515.1,1400.8 516.7,1396.5 518.5,1396.4 520.2,1398.4 522.0,1399.6 523.8,1403.5 525.5,1401.8 527.3,1405.0 529.1,1404.9 530.9,1400.2 532.7,1400.5 534.6,1396.6 536.4,1394.0 538.2,1389.4 540.0,1390.2 541.7,1390.9 543.4,1393.9 545.0,1397.8 546.7,1399.1 548.4,1400.7 550.2,1401.4 552.0,1405.7 553.8,1409.0 555.7,1408.9 557.5,1410.4 559.3,1412.6 561.1,1415.5 562.9,1412.2 564.6,1406.7 566.4,1400.7 568.2,1405.9 569.9,1415.5 571.7,1421.8 573.4,1414.9 575.1,1408.5 576.7,1406.6 578.4,1399.8 580.1,1392.3 581.8,1394.2 583.5,1399.2 585.1,1403.4 586.8,1404.5 588.5,1409.2 590.2,1406.4 591.9,1405.5 593.6,1398.0 595.3,1399.7 597.0,1396.5 598.8,1398.7 600.5,1398.9 602.2,1395.9 604.0,1399.9 605.8,1398.3 607.5,1400.7 609.6,1393.4 611.7,1383.9 613.4,1386.4 615.1,1386.9 616.8,1386.1 618.5,1387.8 620.2,1390.2 621.9,1391.9 623.6,1388.4 625.2,1391.2 626.9,1391.2 628.6,1390.2 630.2,1388.1 631.8,1391.8 633.4,1385.6 635.0,1383.9 636.7,1387.3 638.4,1378.1 640.0,1376.8 641.7,1382.4 643.4,1379.6 645.5,1370.3 647.6,1358.5 649.7,1334.7 651.8,1312.1 653.4,1290.9 655.0,1269.9 656.6,1234.4 658.2,1206.6 659.8,1179.0 661.3,1153.9 662.9,1144.4 664.5,1139.1 666.6,1164.4 668.7,1179.8 670.8,1196.1 672.5,1204.2 674.2,1208.8 675.9,1215.8 677.6,1220.0 679.3,1227.7 681.0,1230.6 682.7,1235.5 684.3,1238.5 686.0,1245.4 687.7,1246.7 689.8,1249.2 691.9,1258.9 694.0,1259.4 695.7,1257.4 697.4,1261.5 699.1,1257.9 700.8,1262.7 702.5,1259.4 704.6,1252.6 706.7,1246.1 708.8,1238.3 710.4,1229.2 712.0,1215.9 713.5,1204.6 715.1,1196.1 716.7,1165.6 718.3,1143.3 719.9,1124.6 721.5,1101.1 723.5,1079.0 726.0,1086.0 727.5,1102.7 728.9,1122.2 730.5,1142.1 732.0,1164.4 733.6,1190.7 735.2,1217.2 737.3,1247.5 739.4,1269.9 741.0,1273.3 742.5,1284.1 744.1,1289.7 745.7,1297.3 747.5,1301.9 749.2,1300.8 751.0,1307.9 753.1,1315.6 755.2,1324.8 756.9,1326.9 758.6,1328.8 760.3,1329.3 762.0,1324.8 763.7,1326.9 765.8,1337.5 767.9,1347.7 770.0,1358.5 772.1,1351.5 774.2,1347.2 776.3,1345.9 777.9,1344.2 779.5,1340.0 781.1,1336.1 782.7,1333.2 784.8,1340.6 786.9,1341.1 789.0,1348.0 791.1,1353.3 793.2,1356.4 795.3,1360.6 796.9,1357.3 798.5,1355.3 800.1,1351.5 801.7,1348.0 803.4,1347.7 805.1,1346.9 806.7,1349.4 808.4,1344.0 810.1,1343.8 812.2,1354.3 814.3,1361.9 816.4,1369.1 818.0,1363.7 819.6,1361.2 821.2,1353.1 822.8,1350.1 824.5,1350.3 826.3,1344.2 828.0,1342.8 829.8,1342.3 831.5,1341.2 833.3,1337.4 835.1,1340.3 836.8,1341.3 838.6,1340.2 840.4,1339.8 842.1,1343.8 843.9,1343.8 845.6,1349.0 847.3,1351.2 848.9,1359.7 850.6,1362.8 852.3,1367.0 854.0,1365.9 855.7,1369.6 857.3,1366.9 859.0,1368.6 860.7,1371.2 862.4,1369.9 864.1,1363.8 865.8,1364.9 867.5,1360.0 869.2,1360.6 871.3,1364.2 873.4,1363.4 875.5,1367.0 877.2,1360.6 878.9,1350.5 880.6,1346.0 882.3,1341.9 884.0,1333.2 886.1,1341.8 888.2,1345.0 890.3,1356.4 892.1,1356.1 893.9,1354.0 895.7,1349.3 897.5,1350.8 899.3,1343.8 901.1,1343.6 902.9,1341.7 904.6,1337.2 906.3,1330.8 908.0,1324.0 909.7,1312.5 911.4,1307.9 913.0,1294.8 914.5,1289.7 916.1,1276.5 917.7,1269.9 919.5,1268.2 921.2,1264.5 923.0,1265.7 924.8,1272.8 926.5,1277.2 928.3,1280.5 930.0,1285.8 931.7,1289.0 933.3,1293.3 935.0,1296.8 936.7,1301.6 938.4,1307.4 940.1,1312.2 941.8,1317.7 943.5,1321.0 945.2,1326.9 946.9,1336.3 948.7,1338.7 950.4,1343.8 952.5,1362.4 954.6,1375.4 956.5,1377.0 958.3,1371.5 960.1,1368.9 962.0,1371.2 963.6,1379.0 965.2,1381.0 966.8,1387.2 968.4,1392.3 970.0,1392.5 971.7,1393.9 973.4,1391.9 975.0,1395.0 976.9,1397.3 978.8,1399.1 980.6,1402.5 982.5,1405.0 984.2,1398.6 986.0,1403.1 987.8,1400.4 989.5,1394.5 991.2,1396.2 993.0,1399.0 994.8,1404.8 996.5,1410.3 998.2,1413.3 1000.0,1417.5 1001.9,1420.3 1003.8,1417.5 1005.6,1415.5 1007.5,1417.5 1009.4,1414.3 1011.2,1415.2 1013.1,1410.6 1015.0,1410.0 1016.9,1412.0 1018.8,1412.7 1020.6,1412.1 1022.5,1413.3 1024.4,1411.2 1026.2,1411.9 1028.1,1411.0 1030.0,1412.5 1031.7,1414.6 1033.3,1416.0 1035.0,1421.4 1036.7,1423.7 1038.3,1426.3 1040.0,1432.5 1041.9,1428.4 1043.8,1424.7 1045.6,1418.7 1047.5,1415.0 1049.4,1420.9 1051.2,1423.1 1053.1,1426.5 1055.0,1426.3 1056.9,1427.6 1058.8,1434.9 1060.6,1437.5 1062.5,1440.0 1064.2,1437.2 1066.0,1432.3 1067.8,1429.8 1069.5,1422.4 1071.2,1418.8 1073.0,1422.8 1074.8,1422.5 1076.5,1422.4 1078.2,1428.9 1080.0,1432.5 1081.7,1438.0 1083.3,1434.1 1085.0,1442.0 1086.7,1441.1 1088.3,1444.2 1090.0,1447.5 1091.8,1445.6 1093.6,1444.0 1095.4,1439.7 1097.1,1439.9 1098.9,1438.6 1100.7,1437.4 1102.5,1433.8 1104.2,1432.0 1105.8,1436.4 1107.5,1436.9 1109.2,1437.7 1110.8,1430.0 1112.5,1432.5 1114.2,1432.6 1116.0,1428.3 1117.8,1432.5 1119.5,1432.6 1121.2,1429.0 1123.0,1427.8 1124.8,1431.1 1126.5,1431.8 1128.2,1428.7 1130.0,1430.0 1131.9,1422.0 1133.8,1409.9 1135.6,1406.1 1137.5,1400.0 1139.3,1398.9 1141.1,1397.4 1142.9,1398.9 1144.6,1392.0 1146.4,1388.4 1148.2,1392.3 1150.0,1390.0 1151.8,1387.7 1153.6,1388.4 1155.4,1388.2 1157.1,1386.9 1158.9,1387.5 1160.7,1386.3 1162.5,1382.5 1164.2,1372.5 1165.8,1369.0 1167.5,1362.5 1169.2,1366.5 1170.8,1361.7 1172.5,1364.4 1174.2,1362.4 1175.8,1361.7 1177.5,1362.5 1179.2,1367.3 1180.8,1367.9 1182.5,1367.0 1184.2,1371.0 1185.8,1368.2 1187.5,1372.5 1189.2,1372.7 1190.8,1377.6 1192.5,1377.6 1194.2,1377.0 1195.8,1381.7 1197.5,1382.5 1199.4,1386.9 1201.2,1392.6 1203.1,1395.7 1205.0,1397.5 1206.7,1395.3 1208.3,1393.2 1210.0,1392.5 1211.9,1397.2 1213.8,1402.0 1215.6,1410.4 1217.5,1412.5 1219.3,1416.7 1221.1,1417.4 1222.9,1416.5 1224.6,1416.3 1226.4,1419.7 1228.2,1418.2 1230.0,1420.0 1231.7,1422.1 1233.3,1420.0 1235.0,1424.2 1236.7,1429.5 1238.3,1426.3 1240.0,1430.0 1241.7,1429.9 1243.3,1435.5 1245.0,1442.1 1246.7,1444.6 1248.3,1443.9 1250.0,1447.5 1251.7,1448.2 1253.3,1450.6 1255.0,1450.6 1256.7,1454.2 1258.3,1455.2 1260.0,1457.5 1261.7,1451.2 1263.3,1449.7 1265.0,1447.0 1266.7,1442.4 1268.3,1438.6 1270.0,1437.5 1271.7,1443.1 1273.3,1448.8 1275.0,1448.2 1276.7,1451.7 1278.3,1457.3 1280.0,1460.0 1281.7,1457.5 1283.3,1454.3 1285.0,1456.5 1286.7,1449.6 1288.3,1448.1 1290.0,1447.5 1291.7,1447.4 1293.3,1448.2 1295.0,1450.8 1296.7,1453.7 1298.3,1456.6 1300.0,1455.0 1301.9,1453.2 1303.8,1448.8 1305.6,1443.1 1307.5,1442.5 1309.3,1444.9 1311.1,1445.6 1312.9,1449.8 1314.6,1454.5 1316.4,1455.4 1318.2,1457.1 1320.0,1460.0 1321.7,1457.2 1323.3,1457.5 1325.0,1456.5 1326.7,1453.1 1328.3,1452.7 1330.0,1452.5 1331.9,1455.5 1333.8,1451.7 1335.6,1455.4 1337.5,1455.2 1339.4,1461.8 1341.2,1461.2 1343.1,1462.3 1345.0,1462.5 1346.8,1462.3 1348.5,1461.1 1350.2,1460.1 1352.0,1455.3 1353.8,1458.0 1355.5,1457.7 1357.2,1452.6 1359.0,1456.1 1360.8,1454.8 1362.5,1452.5 1364.3,1452.3 1366.1,1457.3 1367.9,1460.5 1369.6,1462.9 1371.4,1467.6 1373.2,1467.1 1375.0,1472.5 1376.7,1469.1 1378.3,1467.1 1380.0,1465.2 1381.7,1460.9 1383.3,1457.4 1385.0,1455.0 1386.9,1455.8 1388.8,1449.8 1390.6,1455.0 1392.5,1451.9 1394.4,1449.4 1396.2,1450.4 1398.1,1447.0 1400.0,1450.0 1401.7,1449.2 1403.3,1456.0 1405.0,1458.4 1406.7,1464.8 1408.3,1464.9 1410.0,1470.0 1411.7,1467.0 1413.3,1467.3 1415.0,1472.2 1416.7,1468.4 1418.3,1466.7 1420.0,1467.5 1421.7,1463.4 1423.3,1461.1 1425.0,1460.9 1426.7,1460.0 1428.3,1459.4 1430.0,1455.0 1431.7,1461.0 1433.3,1463.0 1435.0,1464.9 1436.7,1468.3 1438.3,1469.1 1440.0,1477.5 1441.7,1469.6 1443.3,1466.7 1445.0,1460.0 1446.7,1461.0 1448.3,1464.1 1450.0,1462.3 1451.7,1468.5 1453.3,1468.9 1455.0,1470.0 1456.8,1470.1 1458.6,1470.8 1460.4,1465.5 1462.1,1468.9 1463.9,1468.2 1465.7,1473.6 1467.5,1470.0 1469.2,1470.9 1470.8,1471.5 1472.5,1475.5 1474.2,1472.9 1475.8,1479.1 1477.5,1477.5 1479.2,1477.8 1480.8,1480.7 1482.5,1480.7 1484.2,1485.8 1485.8,1481.5 1487.5,1487.5 1489.3,1488.2 1491.1,1484.6 1492.9,1485.7 1494.6,1482.6 1496.4,1484.7 1498.2,1484.0 1500.0,1483.0 1501.9,1483.1 1503.7,1481.5 1505.6,1481.0 1507.5,1480.7 1509.3,1476.8 1511.2,1476.5 1513.0,1472.8 1514.8,1471.2 1516.6,1473.8 1518.4,1470.3 1520.2,1469.7 1522.1,1474.1 1523.9,1474.3 1525.8,1474.4 1527.7,1480.5 1529.5,1484.8 1531.4,1483.2 1533.1,1480.6 1534.8,1476.8 1536.4,1474.8 1538.1,1474.2 1539.9,1477.3 1541.7,1475.7 1543.5,1477.5 1545.3,1481.0 1547.1,1481.0 1549.0,1479.5 1550.8,1478.2 1552.7,1475.4 1554.6,1473.7 1556.4,1473.8 1558.3,1472.0 1560.0,1476.8 1561.7,1482.1 1563.4,1484.4 1565.1,1489.9 1566.8,1486.7 1568.4,1483.0 1570.1,1478.3 1571.8,1474.2 1573.5,1478.2 1575.2,1481.9 1576.8,1483.1 1578.5,1485.5 1580.2,1485.7 1582.0,1483.6 1583.7,1486.2 1585.5,1485.3 1587.2,1484.9 1589.0,1483.8 1590.7,1486.6 1592.5,1490.6 1594.2,1485.5 1596.1,1487.5 1598.0,1487.9 1599.8,1489.7 1601.7,1488.8 1603.6,1491.3 1605.5,1492.2 1607.4,1493.1 1609.2,1495.4 1611.1,1499.4 1613.0,1501.6 1614.8,1503.1 1616.7,1505.6 1618.5,1501.3 1620.3,1500.8 1622.0,1495.4 1623.8,1496.4 1625.6,1492.2 1627.4,1494.6 1629.2,1498.5 1631.0,1503.2 1632.8,1505.9 1634.6,1507.9 1636.4,1501.3 1638.2,1499.3 1640.0,1496.5 1641.8,1489.6 1643.6,1487.7 1645.3,1484.3 1647.0,1490.4 1648.7,1491.8 1650.3,1494.2 1652.0,1494.9 1653.7,1496.4 1655.4,1498.0 1657.1,1498.9 1659.0,1502.8 1660.8,1502.1 1662.7,1503.3 1664.6,1502.6 1666.4,1506.7 1668.3,1505.6 1670.1,1502.5 1671.9,1501.7 1673.7,1493.3 1675.5,1495.4 1677.3,1492.2 1679.0,1495.9 1680.7,1499.1 1682.3,1506.5 1684.0,1507.9 1685.9,1506.8 1687.7,1503.9 1689.6,1501.3 1691.5,1504.2 1693.3,1500.1 1695.2,1496.7 1697.1,1498.4 1698.9,1495.9 1700.8,1500.4 1702.7,1499.3 1704.5,1498.0 1706.4,1498.9 1708.3,1500.6 1710.1,1499.4 1712.0,1505.8 1713.9,1504.2 1715.7,1509.9 1717.6,1510.1 1719.3,1505.9 1721.0,1502.2 1722.7,1500.8 1724.4,1496.7 1726.1,1496.4 1727.9,1492.9 1729.6,1494.3 1731.4,1494.9 1733.1,1492.4 1734.9,1489.5 1736.6,1490.9 1738.4,1488.7 1740.1,1489.9 1742.0,1489.1 1743.9,1490.7 1745.8,1490.8 1747.8,1490.8 1749.7,1488.2 1751.6,1492.6 1753.5,1492.2 1755.4,1490.7 1757.2,1489.2 1759.1,1489.2 1761.0,1491.6 1762.8,1484.0 1764.7,1485.5 1767.0,1476.6 1769.2,1474.2 1771.5,1484.7 1773.7,1492.2 1775.5,1487.5 1777.3,1488.5 1779.1,1480.8 1780.9,1478.7 1782.7,1476.5 1784.6,1477.8 1786.4,1477.5 1788.3,1476.2 1790.2,1475.9 1792.0,1474.3 1793.9,1474.2 1795.7,1476.0 1797.5,1479.2 1799.3,1484.8 1801.1,1486.4 1802.9,1487.7 1804.8,1489.6 1806.6,1492.1 1808.5,1495.0 1810.4,1497.5 1812.2,1496.8 1814.1,1498.9 1815.9,1496.1 1817.7,1494.2 1819.5,1496.0 1821.3,1488.7 1823.1,1485.5 1824.9,1489.4 1826.7,1485.1 1828.5,1491.2 1830.3,1488.1 1832.1,1492.2 1833.9,1491.9 1835.7,1494.5 1837.4,1497.3 1839.2,1499.8 1841.0,1501.2 1842.8,1499.2 1844.6,1496.2 1846.4,1492.2 1848.2,1495.6 1850.0,1487.7 1851.8,1487.1 1853.6,1486.3 1855.4,1487.7 1857.2,1484.3 1859.0,1481.0 1860.9,1483.6 1862.7,1484.6 1864.6,1489.2 1866.5,1484.8 1868.3,1486.5 1870.2,1489.9 1871.9,1494.1 1873.6,1493.7 1875.2,1500.1 1876.9,1505.6 1878.6,1507.0 1880.3,1503.0 1882.0,1503.4 1883.7,1503.6 1885.3,1499.1 1887.0,1501.1 1888.7,1498.5 1890.4,1498.9 1892.3,1497.1 1894.2,1499.0 1896.1,1499.8 1898.1,1499.4 1900.0,1499.2 1901.9,1502.8 1903.8,1501.2 1905.6,1504.7 1907.3,1504.8 1909.1,1504.7 1910.8,1504.1 1912.6,1505.8 1914.3,1506.5 1916.1,1510.3 1917.8,1513.0 1919.6,1512.4 1921.3,1512.2 1923.1,1508.4 1924.8,1505.6 1926.6,1504.8 1928.3,1502.6 1930.1,1501.6 1931.8,1501.3 1933.6,1495.0 1935.3,1494.4 1937.0,1500.5 1938.8,1494.2 1940.5,1496.9 1942.3,1499.4 1944.0,1502.4 1945.8,1505.9 1947.5,1512.5 1949.3,1509.0 1951.0,1512.4 1952.7,1512.3 1954.3,1507.2 1956.0,1506.0 1957.7,1503.4 1959.5,1500.9 1961.3,1507.0 1963.1,1502.0 1964.9,1500.4 1966.7,1501.2" fill="none" stroke="#000" stroke-width="9.0" stroke-linejoin="round" stroke-linecap="round"/>
<line x1="666.8" y1="389" x2="665.2" y2="1454" stroke="#262626" stroke-width="3" stroke-dasharray="12 9"/>
<line x1="728.5" y1="397" x2="727" y2="1461" stroke="#262626" stroke-width="3" stroke-dasharray="12 9"/>
<line x1="841.6" y1="162" x2="841" y2="1457.5" stroke="#262626" stroke-width="3" stroke-dasharray="12 9"/>
<line x1="913.9" y1="389" x2="910.6" y2="1454" stroke="#262626" stroke-width="3" stroke-dasharray="12 9"/>
<line x1="1189" y1="397" x2="1188.6" y2="1457.5" stroke="#262626" stroke-width="3" stroke-dasharray="12 9"/>
<line x1="1250.2" y1="390" x2="1249" y2="1472" stroke="#262626" stroke-width="3" stroke-dasharray="12 9"/>
<line x1="1576.9" y1="410" x2="1574.8" y2="1474" stroke="#262626" stroke-width="3" stroke-dasharray="12 9"/>
<line x1="1778.4" y1="406" x2="1775.6" y2="1470" stroke="#262626" stroke-width="3" stroke-dasharray="12 9"/>
<text transform="translate(348.80,1698.00) scale(1,1.05)" font-family="'Liberation Sans', Arial, sans-serif" font-size="72.5" font-weight="normal" text-anchor="middle" fill="#000">10</text>
<text transform="translate(672.20,1698.00) scale(1,1.05)" font-family="'Liberation Sans', Arial, sans-serif" font-size="72.5" font-weight="normal" text-anchor="middle" fill="#000">20</text>
<text transform="translate(995.60,1698.00) scale(1,1.05)" font-family="'Liberation Sans', Arial, sans-serif" font-size="72.5" font-weight="normal" text-anchor="middle" fill="#000">30</text>
<text transform="translate(1319.00,1698.00) scale(1,1.05)" font-family="'Liberation Sans', Arial, sans-serif" font-size="72.5" font-weight="normal" text-anchor="middle" fill="#000">40</text>
<text transform="translate(1642.40,1698.00) scale(1,1.05)" font-family="'Liberation Sans', Arial, sans-serif" font-size="72.5" font-weight="normal" text-anchor="middle" fill="#000">50</text>
<text transform="translate(1965.80,1698.00) scale(1,1.05)" font-family="'Liberation Sans', Arial, sans-serif" font-size="72.5" font-weight="normal" text-anchor="middle" fill="#000">60</text>
<text transform="translate(2287.70,1698.00) scale(1,1.05)" font-family="'Liberation Sans', Arial, sans-serif" font-size="72.5" font-weight="normal" text-anchor="middle" fill="#000">70</text>
<text transform="translate(1085.70,1812.00) scale(1,1.0)" font-family="'Liberation Sans', Arial, sans-serif" font-size="83.5" font-weight="bold" text-anchor="start" fill="#000">2</text>
<text transform="translate(1132.80,1812.00) scale(1,1.0)" font-family="'Liberation Serif', 'Times New Roman', serif" font-size="83" font-weight="normal" text-anchor="start" fill="#000" stroke="#000" stroke-width="1.6">Θ</text>
<text transform="translate(1216.87,1812.00) scale(1,1.0)" font-family="'Liberation Sans', Arial, sans-serif" font-size="83" font-weight="bold" text-anchor="start" fill="#000">(degree)</text>
<text transform="translate(90.7,1062.41) rotate(-90) scale(1,1.02)" font-family="'Liberation Sans', Arial, sans-serif" font-size="82.4" font-weight="bold" fill="#000">Intensity (a.u.)</text>
<text transform="translate(1848.26,490.00) scale(1,1.03)" font-family="'Liberation Sans', Arial, sans-serif" font-size="75" font-weight="bold" text-anchor="start" fill="#000">TiO</text>
<text transform="translate(1970.60,515.00) scale(1,1.0)" font-family="'Liberation Sans', Arial, sans-serif" font-size="46" font-weight="bold" text-anchor="start" fill="#000">2</text>
<text transform="translate(1996.88,490.00) scale(1,1.03)" font-family="'Liberation Sans', Arial, sans-serif" font-size="75" font-weight="bold" text-anchor="start" fill="#000">PAMMH</text>
<text transform="translate(1855.96,997.00) scale(1,1.03)" font-family="'Liberation Sans', Arial, sans-serif" font-size="75" font-weight="bold" text-anchor="start" fill="#000">TiO</text>
<text transform="translate(1978.60,1022.00) scale(1,1.0)" font-family="'Liberation Sans', Arial, sans-serif" font-size="46" font-weight="bold" text-anchor="start" fill="#000">2</text>
<text transform="translate(2003.18,997.00) scale(1,1.03)" font-family="'Liberation Sans', Arial, sans-serif" font-size="75" font-weight="bold" text-anchor="start" fill="#000">PMMH</text>
<text transform="translate(1883.26,1450.00) scale(1,1.03)" font-family="'Liberation Sans', Arial, sans-serif" font-size="75" font-weight="bold" text-anchor="start" fill="#000">TiO</text>
<text transform="translate(2005.60,1476.00) scale(1,1.0)" font-family="'Liberation Sans', Arial, sans-serif" font-size="46" font-weight="bold" text-anchor="start" fill="#000">2</text>
<text transform="translate(2029.98,1450.00) scale(1,1.03)" font-family="'Liberation Sans', Arial, sans-serif" font-size="75" font-weight="bold" text-anchor="start" fill="#000">PMM</text>
<text transform="translate(847.00,153.30) scale(1,1.04)" font-family="'Liberation Sans', Arial, sans-serif" font-size="69" font-weight="normal" text-anchor="middle" fill="#000">A</text>
<text transform="translate(674.00,369.00) scale(1,1.04)" font-family="'Liberation Sans', Arial, sans-serif" font-size="69" font-weight="normal" text-anchor="middle" fill="#000">M</text>
<text transform="translate(735.00,363.00) scale(1,1.04)" font-family="'Liberation Sans', Arial, sans-serif" font-size="69" font-weight="normal" text-anchor="middle" fill="#000">C</text>
<text transform="translate(918.00,372.00) scale(1,1.04)" font-family="'Liberation Sans', Arial, sans-serif" font-size="69" font-weight="normal" text-anchor="middle" fill="#000">R</text>
<text transform="translate(1195.00,365.00) scale(1,1.04)" font-family="'Liberation Sans', Arial, sans-serif" font-size="69" font-weight="normal" text-anchor="middle" fill="#000">M</text>
<text transform="translate(1257.50,369.70) scale(1,1.04)" font-family="'Liberation Sans', Arial, sans-serif" font-size="69" font-weight="normal" text-anchor="middle" fill="#000">A</text>
<text transform="translate(1578.00,373.40) scale(1,1.04)" font-family="'Liberation Sans', Arial, sans-serif" font-size="69" font-weight="normal" text-anchor="middle" fill="#000">A</text>
<text transform="translate(1778.00,384.40) scale(1,1.04)" font-family="'Liberation Sans', Arial, sans-serif" font-size="69" font-weight="normal" text-anchor="middle" fill="#000">A</text>
</svg>
</body></html>
